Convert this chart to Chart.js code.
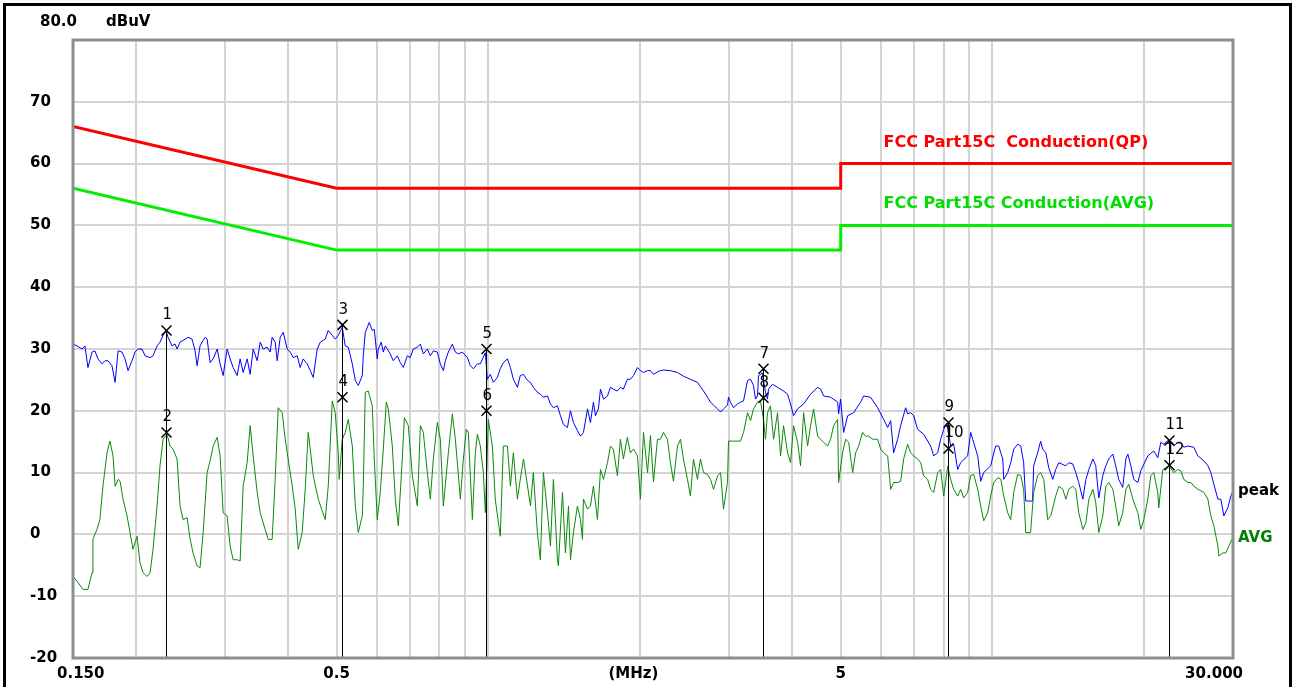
<!DOCTYPE html>
<html>
<head>
<meta charset="utf-8">
<title>Conducted emission</title>
<script src="https://cdn.jsdelivr.net/npm/chart.js"></script>
<style>
  html, body { margin: 0; padding: 0; background: #fff; }
  canvas { display: block; }
</style>
</head>
<body>
<canvas id="emiChart" width="1293" height="687"></canvas>
<script>
// Peak trace: [MHz, dBuV]
const peakTrace = [
  [0.1500,30.8],[0.1528,30.5],[0.1563,30.0],[0.1584,30.5],[0.1606,27.0],[0.1636,29.5],[0.1658,29.7],[0.1681,28.4],[0.1712,27.6],[0.1736,28.1],
  [0.1760,28.1],[0.1792,27.3],[0.1818,24.6],[0.1843,29.7],[0.1877,29.5],[0.1902,28.4],[0.1929,26.5],[0.1964,28.1],[0.1991,29.5],[0.2019,30.0],
  [0.2056,30.0],[0.2085,28.9],[0.2133,28.6],[0.2162,28.9],[0.2202,30.5],[0.2232,31.1],[0.2263,32.2],[0.2294,33.0],[0.2315,31.9],[0.2358,30.5],
  [0.2391,30.8],[0.2413,30.0],[0.2446,31.1],[0.2503,31.6],[0.2537,31.9],[0.2584,31.6],[0.2620,29.7],[0.2644,27.3],[0.2680,30.5],[0.2718,31.4],
  [0.2743,31.9],[0.2768,31.6],[0.2806,27.8],[0.2845,28.4],[0.2898,30.0],[0.2937,27.6],[0.2978,25.7],[0.3033,30.0],[0.3075,28.4],[0.3117,27.0],
  [0.3175,25.7],[0.3218,28.4],[0.3263,26.2],[0.3323,28.4],[0.3369,25.9],[0.3416,30.0],[0.3479,28.1],[0.3527,31.1],[0.3575,30.0],[0.3641,30.3],
  [0.3691,29.5],[0.3725,31.9],[0.3777,31.1],[0.3812,28.1],[0.3865,31.9],[0.3918,32.7],[0.3990,30.0],[0.4045,29.5],[0.4101,28.6],[0.4177,28.9],
  [0.4234,27.0],[0.4293,28.4],[0.4372,27.6],[0.4433,26.5],[0.4494,25.4],[0.4577,30.0],[0.4640,31.1],[0.4747,31.6],[0.4813,33.0],[0.4902,32.2],
  [0.4969,31.6],[0.5038,32.2],[0.5131,33.5],[0.5202,30.5],[0.5274,30.3],[0.5372,27.6],[0.5446,24.9],[0.5521,24.1],[0.5623,25.7],[0.5648,28.9],
  [0.5700,32.7],[0.5805,34.3],[0.5885,33.0],[0.5939,33.2],[0.6021,28.4],[0.6049,30.0],[0.6132,31.1],[0.6189,29.5],[0.6246,30.5],[0.6304,30.0],
  [0.6390,29.2],[0.6478,28.1],[0.6598,28.9],[0.6689,27.8],[0.6781,27.0],[0.6906,28.9],[0.7001,28.6],[0.7099,30.0],[0.7230,30.3],[0.7330,30.8],
  [0.7431,29.2],[0.7568,30.0],[0.7673,28.9],[0.7778,29.7],[0.7922,29.5],[0.8031,27.6],[0.8142,26.5],[0.8217,28.1],[0.8330,29.5],[0.8484,30.8],
  [0.8601,29.5],[0.8720,29.2],[0.8881,29.5],[0.9086,28.6],[0.9211,27.3],[0.9338,26.8],[0.9511,27.6],[0.9641,27.6],[0.9864,29.4],[0.9955,25.1],
  [1.009,25.9],[1.023,24.6],[1.042,25.4],[1.056,26.8],[1.071,27.8],[1.091,28.4],[1.106,27.0],[1.121,25.1],[1.142,23.8],[1.157,25.7],
  [1.174,25.9],[1.196,24.9],[1.212,24.6],[1.228,23.8],[1.251,23.0],[1.268,22.7],[1.286,22.2],[1.310,22.4],[1.328,21.1],[1.346,20.5],
  [1.371,20.8],[1.390,19.2],[1.409,17.8],[1.435,17.3],[1.455,20.0],[1.475,18.1],[1.502,16.8],[1.523,15.9],[1.544,16.5],[1.573,20.3],
  [1.594,18.1],[1.616,21.4],[1.631,19.2],[1.653,20.3],[1.669,23.5],[1.692,21.9],[1.723,22.4],[1.747,23.8],[1.770,23.5],[1.803,23.2],
  [1.828,23.8],[1.853,23.5],[1.887,25.1],[1.913,25.1],[1.940,25.7],[1.976,27.0],[2.003,26.5],[2.031,26.2],[2.069,26.5],[2.097,26.5],
  [2.126,25.9],[2.165,26.3],[2.195,26.5],[2.225,26.6],[2.297,26.5],[2.372,26.2],[2.438,25.6],[2.517,25.1],[2.599,24.6],[2.635,23.9],
  [2.672,23.2],[2.721,22.2],[2.759,21.4],[2.797,20.9],[2.849,20.3],[2.888,19.8],[2.927,20.3],[2.981,20.9],[2.995,22.2],[3.022,21.4],
  [3.064,20.5],[3.121,21.1],[3.164,21.4],[3.208,21.6],[3.267,24.9],[3.312,25.1],[3.357,24.1],[3.388,21.9],[3.419,22.4],[3.435,25.7],
  [3.498,26.1],[3.546,23.0],[3.579,21.9],[3.595,23.5],[3.662,24.3],[3.747,23.8],[3.851,23.2],[3.922,22.7],[3.976,21.1],[4.031,19.2],
  [4.106,20.3],[4.220,21.1],[4.357,22.7],[4.499,23.8],[4.561,23.5],[4.624,22.4],[4.774,22.2],[4.930,21.4],[4.952,19.5],[4.997,21.9],
  [5.067,16.5],[5.161,19.2],[5.303,19.7],[5.475,21.4],[5.551,22.4],[5.731,22.2],[5.918,20.5],[6.083,18.6],[6.196,17.3],[6.281,18.4],
  [6.367,13.2],[6.485,15.4],[6.574,17.6],[6.726,20.5],[6.788,19.5],[6.882,19.7],[6.977,19.2],[7.106,17.0],[7.303,16.2],[7.540,14.3],
  [7.645,12.7],[7.786,13.2],[7.893,15.4],[8.003,17.0],[8.113,18.0],[8.263,14.3],[8.375,14.6],[8.530,10.5],[8.647,11.6],[8.929,12.7],
  [9.052,16.5],[9.135,15.4],[9.348,12.7],[9.476,8.6],[9.607,10.0],[9.919,11.1],[10.06,13.2],[10.15,14.3],[10.29,14.3],[10.48,12.2],
  [10.53,8.9],[10.72,10.0],[10.87,11.6],[11.02,13.8],[11.22,14.6],[11.38,14.3],[11.53,11.6],[11.64,5.4],[12.01,5.4],[12.07,11.1],
  [12.29,13.2],[12.46,15.1],[12.58,13.8],[12.76,13.2],[12.93,10.8],[13.17,8.9],[13.35,10.5],[13.54,11.6],[13.98,11.1],[14.17,11.6],
  [14.43,11.4],[14.63,10.0],[14.83,8.4],[15.11,5.7],[15.32,8.9],[15.53,10.5],[15.82,12.2],[16.03,11.1],[16.25,5.9],[16.55,9.5],
  [16.78,11.1],[17.01,12.2],[17.33,13.0],[17.56,11.1],[17.80,8.9],[18.13,7.6],[18.39,12.2],[18.56,13.0],[18.81,11.1],[19.07,8.9],
  [19.42,8.4],[19.69,10.3],[20.33,12.7],[20.89,13.5],[21.28,12.4],[21.57,14.9],[21.87,14.6],[22.38,15.3],[22.89,14.3],[23.31,14.9],
  [23.63,14.9],[23.97,14.1],[24.41,14.3],[25.09,14.1],[25.55,12.7],[26.26,11.9],[26.75,11.1],[27.11,10.0],[27.49,8.1],[28.00,5.7],
  [28.38,5.7],[28.77,3.0],[29.30,4.3],[29.70,6.2],[30.00,7.0]
];

// Average trace: [MHz, dBuV]
const avgTrace = [
  [0.1500,-6.8],[0.1535,-7.8],[0.1570,-8.9],[0.1606,-8.9],[0.1636,-6.2],[0.1643,-0.8],[0.1673,0.8],[0.1696,2.4],[0.1720,7.8],[0.1752,13.2],
  [0.1776,15.1],[0.1801,12.7],[0.1818,7.8],[0.1843,8.9],[0.1860,8.6],[0.1885,5.7],[0.1920,3.0],[0.1946,0.3],[0.1973,-2.4],[0.2010,-0.3],
  [0.2037,-4.6],[0.2066,-6.2],[0.2104,-6.8],[0.2133,-6.2],[0.2162,-2.4],[0.2202,4.6],[0.2232,11.1],[0.2263,15.4],[0.2305,16.2],[0.2337,14.3],
  [0.2369,13.8],[0.2413,12.2],[0.2446,4.6],[0.2480,2.4],[0.2526,2.7],[0.2561,-0.8],[0.2596,-3.0],[0.2644,-5.1],[0.2680,-5.4],[0.2718,0.3],
  [0.2768,10.0],[0.2806,11.9],[0.2845,14.3],[0.2898,15.7],[0.2937,12.7],[0.2978,3.5],[0.3033,3.0],[0.3075,-1.9],[0.3117,-4.1],[0.3175,-4.1],
  [0.3218,-4.3],[0.3263,7.8],[0.3323,11.6],[0.3369,17.6],[0.3416,12.7],[0.3479,6.8],[0.3527,3.5],[0.3608,0.8],[0.3658,-0.8],[0.3725,-0.8],
  [0.3777,8.9],[0.3829,20.5],[0.3900,19.7],[0.3954,15.4],[0.4008,12.2],[0.4083,7.8],[0.4139,4.1],[0.4196,-2.4],[0.4273,0.3],[0.4333,7.3],
  [0.4392,16.5],[0.4433,13.8],[0.4494,9.5],[0.4598,5.7],[0.4747,2.4],[0.4813,7.8],[0.4902,21.6],[0.4969,19.7],[0.5038,13.2],[0.5061,8.9],
  [0.5131,15.4],[0.5202,16.5],[0.5274,18.6],[0.5372,14.3],[0.5446,4.6],[0.5521,0.3],[0.5623,3.0],[0.5648,7.8],[0.5700,23.0],[0.5779,23.2],
  [0.5885,20.8],[0.5939,12.2],[0.6021,2.4],[0.6104,6.8],[0.6189,13.8],[0.6274,21.4],[0.6332,20.3],[0.6449,14.3],[0.6538,5.7],[0.6628,1.4],
  [0.6750,12.2],[0.6812,18.9],[0.6938,17.6],[0.7066,9.5],[0.7230,4.6],[0.7330,17.6],[0.7431,16.5],[0.7568,10.0],[0.7673,5.7],[0.7778,12.2],
  [0.7922,18.1],[0.8031,15.4],[0.8142,4.6],[0.8330,13.2],[0.8484,19.5],[0.8601,15.4],[0.8800,5.7],[0.8921,12.2],[0.9044,17.0],[0.9127,16.5],
  [0.9296,2.4],[0.9424,13.2],[0.9511,16.2],[0.9641,14.3],[0.9774,10.0],[0.9864,3.5],[1.000,18.6],[1.0185,14.3],[1.032,5.7],[1.056,-0.3],
  [1.071,14.3],[1.091,14.3],[1.106,7.8],[1.121,13.2],[1.142,5.7],[1.157,8.9],[1.174,12.2],[1.196,7.8],[1.212,4.6],[1.228,10.0],
  [1.251,0.3],[1.268,-4.1],[1.286,10.0],[1.310,3.5],[1.328,-1.9],[1.346,8.9],[1.371,-4.1],[1.377,-5.1],[1.403,6.8],[1.422,-3.0],
  [1.442,4.6],[1.455,-4.1],[1.475,0.3],[1.502,4.6],[1.523,2.4],[1.537,-0.8],[1.544,5.7],[1.573,4.1],[1.594,4.6],[1.616,7.8],
  [1.646,2.4],[1.669,10.5],[1.692,8.9],[1.723,11.6],[1.747,14.3],[1.770,13.8],[1.803,9.5],[1.828,15.4],[1.853,12.2],[1.887,15.7],
  [1.913,13.2],[1.940,13.8],[1.976,12.7],[2.003,5.7],[2.031,16.5],[2.069,10.0],[2.097,16.0],[2.126,8.5],[2.165,15.4],[2.195,15.4],
  [2.225,16.5],[2.266,15.4],[2.297,11.6],[2.329,8.6],[2.372,14.3],[2.405,15.4],[2.438,12.2],[2.483,8.9],[2.517,6.2],[2.552,12.2],
  [2.599,8.9],[2.635,12.2],[2.672,10.0],[2.721,9.7],[2.759,8.9],[2.797,7.3],[2.849,9.5],[2.888,10.0],[2.927,4.1],[2.981,8.4],
  [2.995,15.1],[3.064,15.1],[3.164,15.1],[3.208,16.5],[3.267,19.7],[3.312,18.4],[3.357,20.3],[3.419,21.4],[3.466,21.6],[3.514,18.6],
  [3.546,15.4],[3.579,19.7],[3.628,20.8],[3.679,15.4],[3.747,19.7],[3.799,12.7],[3.851,17.6],[3.922,13.2],[3.976,11.6],[4.031,17.6],
  [4.106,14.9],[4.162,11.1],[4.220,19.7],[4.298,14.3],[4.357,17.6],[4.417,20.3],[4.499,15.9],[4.561,15.4],[4.624,14.9],[4.710,14.3],
  [4.774,15.4],[4.840,17.6],[4.930,18.6],[4.952,8.4],[5.043,13.2],[5.114,15.4],[5.184,14.9],[5.280,10.0],[5.352,13.2],[5.426,14.3],
  [5.526,16.5],[5.602,15.9],[5.679,15.9],[5.784,15.4],[5.918,15.4],[6.000,13.8],[6.083,13.2],[6.196,12.7],[6.281,7.3],[6.367,8.4],
  [6.485,8.4],[6.574,8.6],[6.665,12.2],[6.788,14.6],[6.882,13.2],[6.977,12.7],[7.106,12.2],[7.204,11.6],[7.303,9.5],[7.438,8.9],
  [7.540,7.3],[7.645,6.8],[7.786,10.0],[7.893,10.5],[8.003,6.2],[8.151,11.0],[8.263,8.9],[8.375,7.3],[8.530,6.2],[8.647,7.3],
  [8.767,5.9],[8.929,6.8],[9.052,9.5],[9.178,9.7],[9.348,7.3],[9.476,4.6],[9.607,2.2],[9.785,3.5],[9.919,6.2],[10.06,8.4],
  [10.25,9.2],[10.39,8.9],[10.53,6.2],[10.72,3.5],[10.87,2.4],[11.02,6.8],[11.22,9.7],[11.38,9.5],[11.53,7.3],[11.64,0.3],
  [11.90,0.3],[12.07,6.8],[12.29,9.5],[12.46,10.0],[12.64,8.9],[12.87,2.4],[13.05,3.0],[13.35,6.2],[13.54,7.8],[13.79,7.3],
  [13.98,5.7],[14.17,7.3],[14.43,7.8],[14.63,7.3],[14.83,3.5],[15.11,0.8],[15.32,1.9],[15.53,5.7],[15.82,7.3],[16.03,5.1],
  [16.25,0.3],[16.55,3.0],[16.78,7.8],[17.01,8.4],[17.33,7.3],[17.56,4.6],[17.80,1.4],[18.13,3.5],[18.39,7.3],[18.64,8.1],
  [18.99,5.7],[19.42,3.5],[19.69,0.8],[19.96,2.4],[20.33,5.7],[20.61,9.5],[20.89,10.0],[21.28,6.8],[21.37,4.3],[21.77,10.5],
  [22.07,10.8],[22.38,11.1],[22.89,10.0],[23.31,10.5],[23.63,10.3],[23.97,8.9],[24.41,8.4],[24.75,8.4],[25.09,7.8],[25.55,7.3],
  [26.26,6.8],[26.75,5.7],[27.11,3.0],[27.49,1.4],[28.00,-1.9],[28.12,-3.5],[28.64,-3.0],[29.03,-3.0],[29.43,-1.9],[29.85,-0.8],
  [30.00,-1.0]
];

// FCC Part 15C conducted limits
const limitFreq = [0.15, 0.5, 5, 5, 30];
const qpLimit = [66, 56, 56, 60, 60];
const avgLimit = [56, 46, 46, 50, 50];

// markers
const markerNo = [1, 2, 3, 4, 5, 6, 7, 8, 9, 10, 11, 12];
const markerFreq = [0.2294, 0.2294, 0.5131, 0.5131, 0.991, 0.991, 3.51, 3.51, 8.15, 8.15, 22.38, 22.38];
const markerLevel = [33.0, 16.5, 33.9, 22.2, 30.0, 20.0, 26.8, 22.1, 18.1, 13.9, 15.2, 11.2];

// axes
const gridFreq = [0.2, 0.3, 0.4, 0.5, 0.6, 0.7, 0.8, 0.9, 1, 2, 3, 4, 5, 6, 7, 8, 9, 10, 20];
const yTickValues = [70, 60, 50, 40, 30, 20, 10, 0, -10, -20];
const xTickFreq = [0.15, 0.5, 1.94, 5, 30];
const xTickLabels = ['0.150', '0.5', '(MHz)', '5', '30.000'];

const AXIS_FONT = 'bold 15px "DejaVu Sans"';

function toPoints(pairs) {
  return pairs.map(p => ({ x: p[0], y: p[1] }));
}
function limitPoints(levels) {
  return limitFreq.map((f, i) => ({ x: f, y: levels[i] }));
}

const decorPlugin = {
  id: 'decor',
  beforeDraw(chart) {
    const c = chart.ctx;
    c.save();
    c.fillStyle = '#fff';
    c.fillRect(0, 0, chart.width, chart.height);
    c.restore();
  },
  afterDatasetsDraw(chart) {
    const c = chart.ctx;
    const xs = chart.scales.x;
    const ys = chart.scales.y;
    const a = chart.chartArea;
    c.save();

    // marker lines, crosses and numbers
    markerFreq.forEach((f, i) => {
      const px = Math.round(xs.getPixelForValue(f)) + 0.5;
      const py = ys.getPixelForValue(markerLevel[i]);
      c.strokeStyle = '#000';
      c.lineWidth = 1;
      c.beginPath();
      c.moveTo(px, py);
      c.lineTo(px, a.bottom);
      c.stroke();
      c.lineWidth = 1.5;
      c.beginPath();
      c.moveTo(px - 5, py - 5); c.lineTo(px + 5, py + 5);
      c.moveTo(px + 5, py - 5); c.lineTo(px - 5, py + 5);
      c.stroke();
      c.font = '15px "DejaVu Sans"';
      c.fillStyle = '#000';
      c.textAlign = 'left';
      c.textBaseline = 'middle';
      c.fillText(String(markerNo[i]), px - 4, py - 15);
    });

    // plot frame
    c.strokeStyle = '#8e8e8e';
    c.lineWidth = 3;
    c.strokeRect(a.left, a.top, a.right - a.left, a.bottom - a.top);

    // y tick labels
    c.font = AXIS_FONT;
    c.fillStyle = '#000';
    c.textBaseline = 'middle';
    c.textAlign = 'left';
    yTickValues.forEach(v => {
      c.fillText(String(v), a.left - 43, ys.getPixelForValue(v));
    });
    c.fillText('80.0', a.left - 33, a.top - 18);
    c.fillText('dBuV', a.left + 33, a.top - 18);

    // x tick labels
    xTickFreq.forEach((f, i) => {
      let px = xs.getPixelForValue(f);
      if (i === 0) { c.textAlign = 'left'; px -= 16; }
      else if (i === xTickFreq.length - 1) { c.textAlign = 'right'; px += 10; }
      else c.textAlign = 'center';
      c.fillText(xTickLabels[i], px, a.bottom + 16);
    });

    // limit line captions
    c.textAlign = 'left';
    c.font = 'bold 16px "DejaVu Sans"';
    c.fillStyle = '#ff0000';
    c.fillText('FCC Part15C  Conduction(QP)', xs.getPixelForValue(6.08), ys.getPixelForValue(63.3));
    c.fillStyle = '#00dd00';
    c.fillText('FCC Part15C Conduction(AVG)', xs.getPixelForValue(6.08), ys.getPixelForValue(53.5));

    // trace captions at the right end
    c.font = AXIS_FONT;
    c.fillStyle = '#000';
    c.fillText('peak', a.right + 5, ys.getPixelForValue(peakTrace[peakTrace.length - 1][1]));
    c.fillStyle = '#008000';
    c.fillText('AVG', a.right + 5, ys.getPixelForValue(avgTrace[avgTrace.length - 1][1]) - 2);

    // outer frame
    c.strokeStyle = '#000';
    c.lineWidth = 3;
    c.strokeRect(4.5, 4.5, 1286, 700);

    c.restore();
  }
};

new Chart(document.getElementById('emiChart'), {
  type: 'line',
  data: {
    datasets: [
      { label: 'QP limit', data: limitPoints(qpLimit), borderColor: '#ff0000', borderWidth: 3 },
      { label: 'AVG limit', data: limitPoints(avgLimit), borderColor: '#00ee00', borderWidth: 3 },
      { label: 'AVG', data: toPoints(avgTrace), borderColor: '#0a8a0a', borderWidth: 1 },
      { label: 'peak', data: toPoints(peakTrace), borderColor: '#0000ff', borderWidth: 1 }
    ]
  },
  options: {
    responsive: false,
    devicePixelRatio: 1,
    animation: false,
    layout: { padding: { left: 73, top: 40, right: 60, bottom: 29 } },
    elements: { point: { radius: 0 }, line: { tension: 0 } },
    plugins: { legend: { display: false }, tooltip: { enabled: false } },
    scales: {
      x: {
        type: 'logarithmic',
        min: 0.15,
        max: 30,
        afterBuildTicks: s => { s.ticks = gridFreq.map(v => ({ value: v })); },
        afterFit: s => { s.height = 0; },
        ticks: { display: false },
        grid: { color: '#d4d4d4', lineWidth: 2, drawTicks: false },
        border: { display: false }
      },
      y: {
        type: 'linear',
        min: -20,
        max: 80,
        ticks: { display: false, stepSize: 10 },
        afterFit: s => { s.width = 0; },
        grid: { color: '#d4d4d4', lineWidth: 2, drawTicks: false },
        border: { display: false }
      }
    }
  },
  plugins: [decorPlugin]
});
</script>
</body>
</html>
